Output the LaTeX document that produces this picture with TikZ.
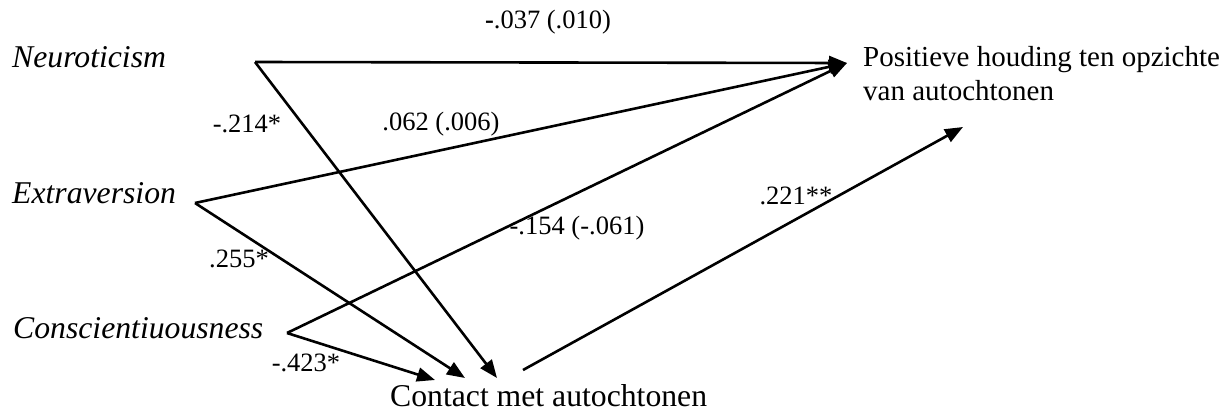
\documentclass[tikz,border=0pt]{standalone}
\usepackage{fontspec}
\setmainfont{Liberation Serif}
\usetikzlibrary{arrows.meta}
\tikzset{
  var/.style={inner sep=0pt, anchor=base west, font=\fontsize{31.7}{36}\selectfont},
  outcome/.style={inner sep=0pt, anchor=base west, align=left, font=\fontsize{29}{33.5}\selectfont},
  coef/.style={inner sep=0pt, font=\fontsize{26.5}{30}\selectfont},
  path/.style={line width=2.6pt, -{Triangle[length=18pt,width=14pt]}},
}
\begin{document}
\begin{tikzpicture}[x=1pt,y=-1pt]
\useasboundingbox (0,0) rectangle (1231,413);

% variables
\node[var] (neuro) at (12,67) {\itshape Neuroticism};
\node[var] (extra) at (12,203) {\itshape Extraversion};
\node[var] (consc) at (13,338) {\itshape Conscientiuousness};
\node[var] (contact) at (390,406) {Contact met autochtonen};
\node[outcome] (attitude) at (863,100) {Positieve houding ten opzichte\\van autochtonen};

% connector ports
\coordinate (neuro-out) at (255,62);
\coordinate (extra-out) at (195,203);
\coordinate (consc-out) at (287,333);
\coordinate (att-in) at (847,63);
\coordinate (att-in2) at (963,127);
\coordinate (con-in1) at (435,380);
\coordinate (con-in2) at (465,378);
\coordinate (con-in3) at (497,378);
\coordinate (con-out) at (523,370);

% paths
\draw[path] (neuro-out) -- (att-in);
\draw[path] (neuro-out) -- (con-in3);
\draw[path] (extra-out) -- (att-in);
\draw[path] (extra-out) -- (con-in2);
\draw[path] (consc-out) -- (att-in);
\draw[path] (consc-out) -- (con-in1);
\draw[path] (con-out) -- (att-in2);

% coefficients
\node[coef] (c1) at (548,22) {{\bfseries -}.037 (.010)};
\node[coef] (c2) at (247,124) {-.214*};
\node[coef] (c3) at (441,124) {.062 (.006)};
\node[coef] (c4) at (239,259) {.255*};
\node[coef] (c5) at (577,228) {-.154 (-.061)};
\node[coef] (c6) at (796,196) {.221**};
\node[coef] (c7) at (306,363) {-.423*};
\end{tikzpicture}
\end{document}
